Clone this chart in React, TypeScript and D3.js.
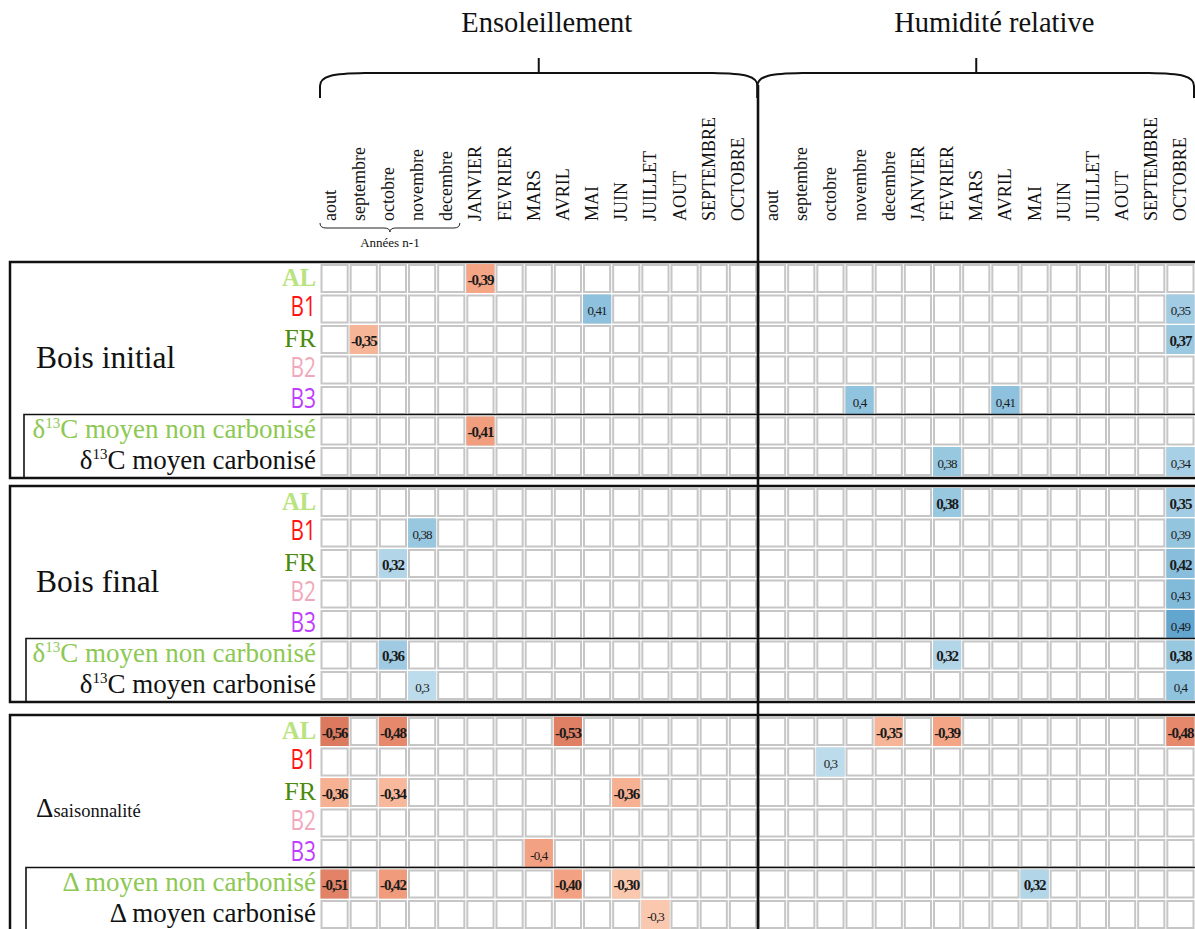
import React from "react";
import * as d3 from "d3";

// ---------- DATA ----------
const months = [
  "aout", "septembre", "octobre", "novembre", "decembre",
  "JANVIER", "FEVRIER", "MARS", "AVRIL", "MAI", "JUIN", "JUILLET", "AOUT", "SEPTEMBRE", "OCTOBRE",
];
const previousYearMonths = ["aout", "septembre", "octobre", "novembre", "decembre"];
const previousYearLabel = "Années n-1";
const variables = ["Ensoleillement", "Humidité relative"];
const sectionNames = ["Bois initial", "Bois final", "Δsaisonnalité"];
const siteRows = ["AL", "B1", "FR", "B2", "B3"];
const meanRows = ["moyen non carbonisé", "moyen carbonisé"];
const rowKeys = [...siteRows, ...meanRows];

type Corr = [string, string, string, number]; // [row, variable, month, r]

const boisInitial: Corr[] = [
  ["AL", "Ensoleillement", "JANVIER", -0.39],
  ["B1", "Ensoleillement", "MAI", 0.41],
  ["B1", "Humidité relative", "OCTOBRE", 0.35],
  ["FR", "Ensoleillement", "septembre", -0.35],
  ["FR", "Humidité relative", "OCTOBRE", 0.37],
  ["B3", "Humidité relative", "novembre", 0.4],
  ["B3", "Humidité relative", "AVRIL", 0.41],
  ["moyen non carbonisé", "Ensoleillement", "JANVIER", -0.41],
  ["moyen carbonisé", "Humidité relative", "FEVRIER", 0.38],
  ["moyen carbonisé", "Humidité relative", "OCTOBRE", 0.34],
];

const boisFinal: Corr[] = [
  ["AL", "Humidité relative", "FEVRIER", 0.38],
  ["AL", "Humidité relative", "OCTOBRE", 0.35],
  ["B1", "Ensoleillement", "novembre", 0.38],
  ["B1", "Humidité relative", "OCTOBRE", 0.39],
  ["FR", "Ensoleillement", "octobre", 0.32],
  ["FR", "Humidité relative", "OCTOBRE", 0.42],
  ["B2", "Humidité relative", "OCTOBRE", 0.43],
  ["B3", "Humidité relative", "OCTOBRE", 0.49],
  ["moyen non carbonisé", "Ensoleillement", "octobre", 0.36],
  ["moyen non carbonisé", "Humidité relative", "FEVRIER", 0.32],
  ["moyen non carbonisé", "Humidité relative", "OCTOBRE", 0.38],
  ["moyen carbonisé", "Ensoleillement", "novembre", 0.3],
  ["moyen carbonisé", "Humidité relative", "OCTOBRE", 0.4],
];

const saisonnalite: Corr[] = [
  ["AL", "Ensoleillement", "aout", -0.56],
  ["AL", "Ensoleillement", "octobre", -0.48],
  ["AL", "Ensoleillement", "AVRIL", -0.53],
  ["AL", "Humidité relative", "decembre", -0.35],
  ["AL", "Humidité relative", "FEVRIER", -0.39],
  ["AL", "Humidité relative", "OCTOBRE", -0.48],
  ["B1", "Humidité relative", "octobre", 0.3],
  ["FR", "Ensoleillement", "aout", -0.36],
  ["FR", "Ensoleillement", "octobre", -0.34],
  ["FR", "Ensoleillement", "JUIN", -0.36],
  ["B3", "Ensoleillement", "MARS", -0.4],
  ["moyen non carbonisé", "Ensoleillement", "aout", -0.51],
  ["moyen non carbonisé", "Ensoleillement", "octobre", -0.42],
  ["moyen non carbonisé", "Ensoleillement", "AVRIL", -0.4],
  ["moyen non carbonisé", "Ensoleillement", "JUIN", -0.3],
  ["moyen non carbonisé", "Humidité relative", "MAI", 0.32],
  ["moyen carbonisé", "Ensoleillement", "JUILLET", -0.3],
];

const sectionData = [boisInitial, boisFinal, saisonnalite];

// ---------- STYLE / LAYOUT ----------
const W = 1195;
const H = 929;
const SERIF = "'Liberation Serif', 'Times New Roman', Times, serif";
const SANS = "'Open Sans', 'Liberation Sans', sans-serif";
const GRID_X0 = 320;
const GRID_X1 = 1195;
const SECTION_TOPS = [262, 486, 715];
const ROW_PITCH = 30.5;
const LABEL_X = 316;
const boldRows = ["AL", "FR", "moyen non carbonisé"];

const rowStyles: Record<string, any> = {
  AL: { fill: "#b8e37e", fontFamily: SERIF, fontWeight: 700, fontSize: 24.5 },
  B1: { fill: "#ff1414", fontFamily: SANS, fontSize: 26.5, textLength: 25.5 },
  FR: { fill: "#4a8a0c", fontFamily: SERIF, fontSize: 26 },
  B2: { fill: "#f2a8bb", fontFamily: SANS, fontSize: 26.5, textLength: 25.5 },
  B3: { fill: "#c03cff", fontFamily: SANS, fontSize: 26.5, textLength: 25.5 },
  "moyen non carbonisé": { fill: "#8cc853", fontFamily: SERIF, fontSize: 27 },
  "moyen carbonisé": { fill: "#111", fontFamily: SERIF, fontSize: 27 },
};

const locale = d3.formatLocale({
  decimal: ",",
  thousands: "\u00a0",
  grouping: [3],
  currency: ["", ""],
  minus: "-",
});
const fmtBold = locale.format(".2f");
const fmtRegular = locale.format(".2~f");

const negColor = d3
  .scaleLinear<string>()
  .domain([-0.56, -0.47, -0.39, -0.3])
  .range(["#dc7a5f", "#e68a6d", "#f4a585", "#f9c8ae"])
  .clamp(true);
const posColor = d3
  .scaleLinear<string>()
  .domain([0.3, 0.35, 0.41, 0.49])
  .range(["#bcdbeb", "#a2cce3", "#8dc1dd", "#62a5cf"])
  .clamp(true);
const cellColor = (v: number) => (v < 0 ? negColor(v) : posColor(v));

function bracePath(x0: number, x1: number, yLine: number, yEnd: number, yBend: number) {
  return `M${x0},${yEnd} V${yBend} C${x0},${yLine + 3} ${x0 + 12},${yLine + 0.5} ${x0 + 45},${yLine}
    H${x1 - 45} C${x1 - 12},${yLine + 0.5} ${x1},${yLine + 3} ${x1},${yBend} V${yEnd}`;
}

export default function App() {
  const colKeys = variables.flatMap((v) => months.map((m) => `${v}|${m}`));
  const x = d3.scaleBand<string>().domain(colKeys).range([GRID_X0, GRID_X1]);
  const bw = x.bandwidth();
  const blockStart = variables.map((v) => x(`${v}|${months[0]}`)!);
  const blockEnd = variables.map((v) => x(`${v}|${months[months.length - 1]}`)! + bw);
  const divX = blockStart[1];

  const prevX0 = x(`${variables[0]}|${previousYearMonths[0]}`)!;
  const prevX1 = x(`${variables[0]}|${previousYearMonths[previousYearMonths.length - 1]}`)! + bw - 6;
  const prevXc = (prevX0 + prevX1) / 2;

  return (
    <svg
      width={W}
      height={H}
      viewBox={`0 0 ${W} ${H}`}
      style={{ position: "absolute", left: 0, top: 0, background: "#fff" }}
    >
      <rect x={0} y={0} width={W} height={H} fill="#fff" />

      {/* Variable titles + braces */}
      {variables.map((v, i) => {
        const x0 = blockStart[i];
        const x1 = blockEnd[i] - (i === 1 ? 1 : 0);
        const xc = (blockStart[i] + blockEnd[i]) / 2;
        return (
          <g key={v}>
            <text
              x={xc + (i === 0 ? 8 : 18)}
              y={32}
              textAnchor="middle"
              fontFamily={SERIF}
              fontSize={28.5}
              fill="#111"
            >
              {v}
            </text>
            <path d={bracePath(x0, x1, 73, 98, 86)} fill="none" stroke="#111" strokeWidth={2} />
            <line x1={xc} x2={xc} y1={73} y2={58} stroke="#111" strokeWidth={2} />
          </g>
        );
      })}

      {/* Column labels */}
      {colKeys.map((k) => {
        const [v, m] = k.split("|");
        const dx = v === variables[0] ? 1 : 6;
        const xc = x(k)! + bw / 2 + dx;
        return (
          <text
            key={k}
            transform={`translate(${xc},221) rotate(-90)`}
            fontFamily={SERIF}
            fontSize={18}
            fill="#111"
          >
            {m}
          </text>
        );
      })}

      {/* Années n-1 brace */}
      <path
        d={`M${prevX0},223 Q${prevX0},228 ${prevX0 + 6},228 H${prevXc - 6} Q${prevXc},228 ${prevXc},232
            Q${prevXc},228 ${prevXc + 6},228 H${prevX1 - 6} Q${prevX1},228 ${prevX1},223`}
        fill="none"
        stroke="#222"
        strokeWidth={1}
      />
      <text x={prevXc} y={247} textAnchor="middle" fontFamily={SERIF} fontSize={13} fill="#111">
        {previousYearLabel}
      </text>

      {/* Sections */}
      {sectionNames.map((sec, si) => {
        const top = SECTION_TOPS[si];
        const y = d3
          .scaleBand<string>()
          .domain(rowKeys)
          .range([top + 1.5, top + 1.5 + rowKeys.length * ROW_PITCH]);
        const rh = y.bandwidth();
        const data = sectionData[si];
        const innerTop = y(meanRows[0])! - 1.5;
        const bottom = y(rowKeys[rowKeys.length - 1])! + rh;
        const meanPrefix = si === 2 ? "Δ" : "δ";
        return (
          <g key={sec}>
            {/* empty grid */}
            {rowKeys.map((r) =>
              colKeys.map((k) => (
                <rect
                  key={r + k}
                  x={x(k)! + 1.5}
                  y={y(r)! + 1.5}
                  width={bw - 3}
                  height={rh - 3.5}
                  fill="#fff"
                  stroke="#c6c6c6"
                  strokeWidth={2}
                />
              ))
            )}
            {/* significant correlations */}
            {data.map(([r, v, m, val]) => {
              const k = `${v}|${m}`;
              const bold = boldRows.includes(r);
              return (
                <g key={r + k}>
                  <rect
                    x={x(k)! + 0.5}
                    y={y(r)! + 0.5}
                    width={bw - 1}
                    height={rh - 1.5}
                    fill={cellColor(val)}
                  />
                  <text
                    x={x(k)! + bw / 2}
                    y={y(r)! + 21}
                    textAnchor="middle"
                    fontFamily={SERIF}
                    fontWeight={bold ? 700 : 400}
                    fontSize={bold ? 15 : 13}
                    letterSpacing={bold ? -1.1 : -0.9}
                    fill="#1a1a1a"
                  >
                    {bold ? fmtBold(val) : fmtRegular(val)}
                  </text>
                </g>
              );
            })}

            {/* row labels */}
            {rowKeys.map((r) => {
              const st = rowStyles[r];
              const yy = y(r)! + 22;
              if (siteRows.includes(r)) {
                return (
                  <text
                    key={r}
                    x={LABEL_X}
                    y={yy}
                    textAnchor="end"
                    fontFamily={st.fontFamily}
                    fontWeight={st.fontWeight || 400}
                    fontSize={st.fontSize}
                    fill={st.fill}
                    {...(st.textLength
                      ? { textLength: st.textLength, lengthAdjust: "spacingAndGlyphs" }
                      : {})}
                  >
                    {r}
                  </text>
                );
              }
              return (
                <text
                  key={r}
                  x={LABEL_X}
                  y={yy}
                  textAnchor="end"
                  fontFamily={st.fontFamily}
                  fontSize={st.fontSize}
                  fill={st.fill}
                >
                  {si === 2 ? (
                    <tspan>{`${meanPrefix} ${r}`}</tspan>
                  ) : (
                    <>
                      <tspan>{meanPrefix}</tspan>
                      <tspan fontSize={15} dy={-10}>
                        13
                      </tspan>
                      <tspan dy={10}>{`C ${r}`}</tspan>
                    </>
                  )}
                </text>
              );
            })}

            {/* section label */}
            {si < 2 ? (
              <text x={36} y={top + 106} fontFamily={SERIF} fontSize={31.5} fill="#111">
                {sec}
              </text>
            ) : (
              <text x={36} y={top + 102} fontFamily={SERIF} fill="#111">
                <tspan fontSize={27}>{sec.slice(0, 1)}</tspan>
                <tspan fontSize={18.5}>{sec.slice(1)}</tspan>
              </text>
            )}

            {/* boxes */}
            <path
              d={`M${W + 10},${top} H10 V${bottom + 1} H${W + 10}`}
              fill="none"
              stroke="#111"
              strokeWidth={2.5}
            />
            <path
              d={`M${W + 10},${innerTop} H${si === 0 ? 24 : 26} V${bottom + 1}`}
              fill="none"
              stroke="#111"
              strokeWidth={1.6}
            />
          </g>
        );
      })}

      {/* divider between variables */}
      <line x1={divX + 0.5} x2={divX + 0.5} y1={85} y2={H} stroke="#111" strokeWidth={2.6} />
    </svg>
  );
}
